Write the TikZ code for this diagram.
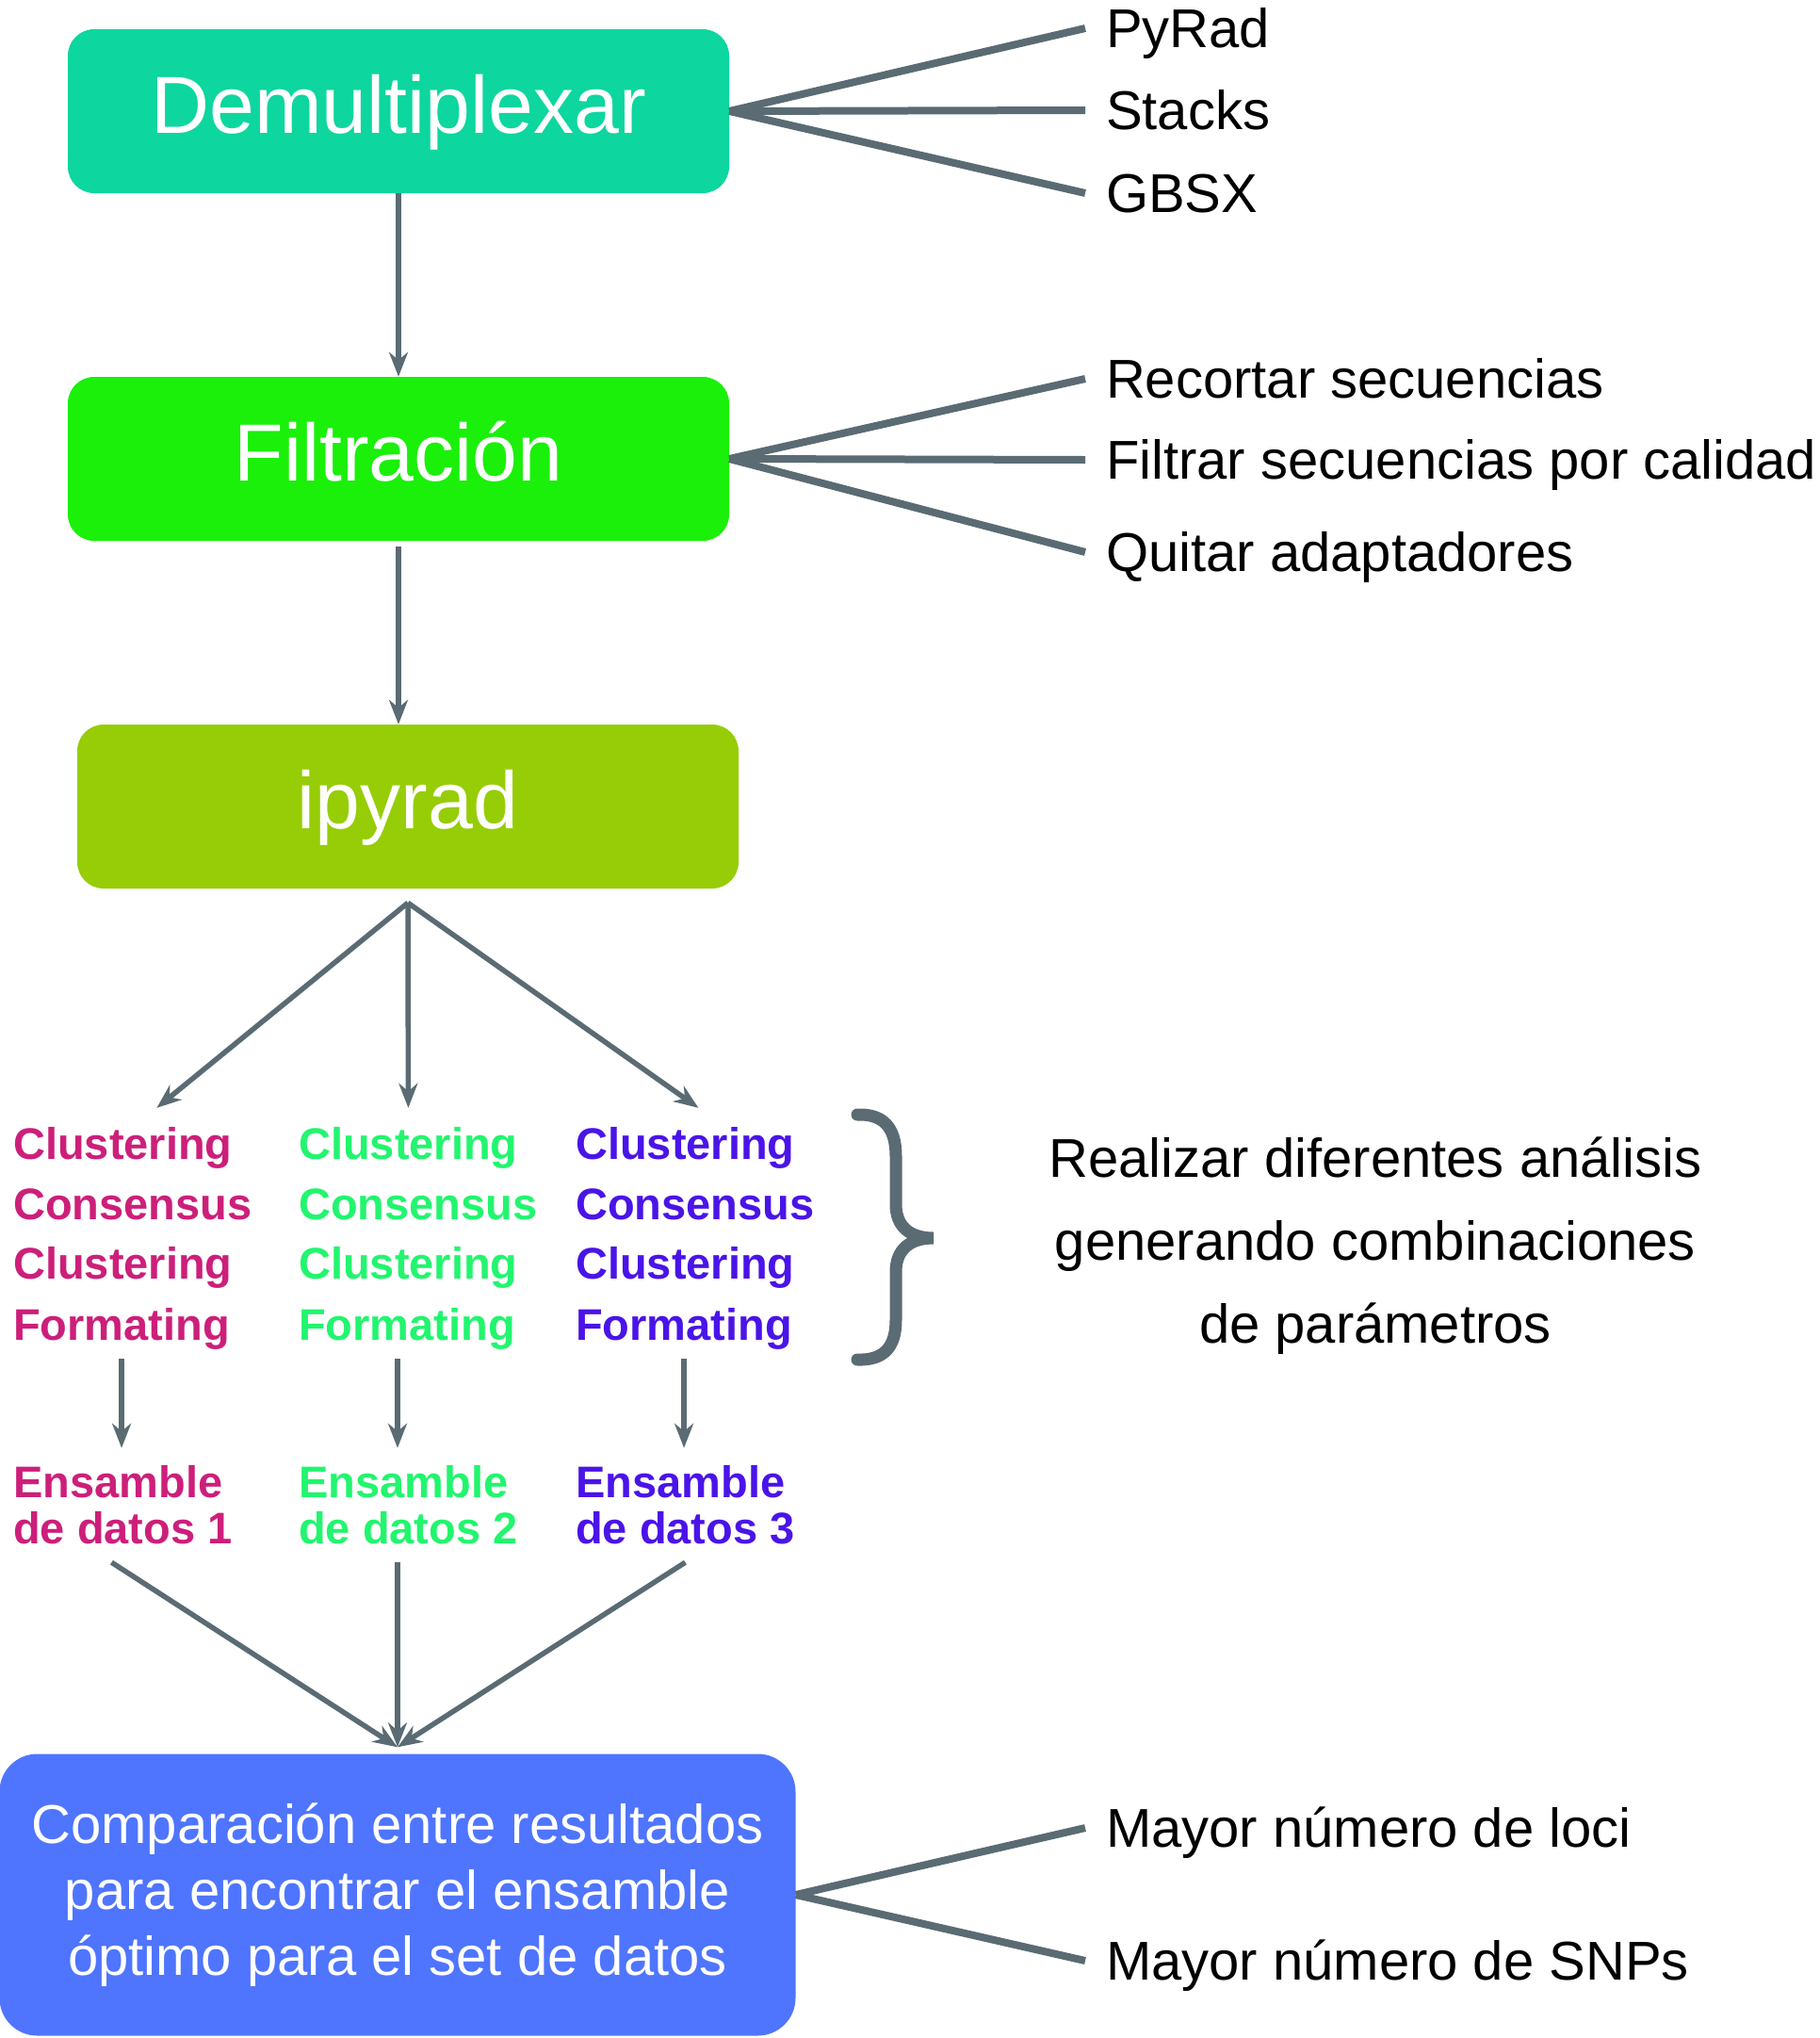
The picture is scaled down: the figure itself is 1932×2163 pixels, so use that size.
\documentclass[tikz,border=0pt]{standalone}
\usepackage{fontspec}
\setmainfont{Liberation Sans}
\usepackage{tikz}
\usetikzlibrary{arrows.meta}

\definecolor{demuxfill}{HTML}{0DD69E}
\definecolor{filtfill}{HTML}{1AF00A}
\definecolor{ipyfill}{HTML}{96CD06}
\definecolor{cmpfill}{HTML}{4F75FE}
\definecolor{linegray}{HTML}{5A6B73}
\definecolor{setone}{HTML}{CC1F7A}
\definecolor{settwo}{HTML}{22F56E}
\definecolor{setthree}{HTML}{4A14E8}

\begin{document}
\begin{tikzpicture}[x=1pt,y=-1pt]

\tikzset{stage/.style = {shape=rectangle,rounded corners=28pt,minimum width=702pt,minimum height=174pt,inner sep=0pt,text=white}}
\tikzset{oneline/.style = {font=\fontsize{86}{100}\selectfont,text height=62pt,text depth=16pt}}
\tikzset{tool/.style = {anchor=west,inner sep=0pt,outer xsep=22pt,font=\fontsize{58}{70}\selectfont,text height=41pt,text depth=0pt}}
\tikzset{runtext/.style = {anchor=west,inner sep=0pt,font=\bfseries\fontsize{47}{56}\selectfont,text height=34pt,text depth=0pt}}
\tikzset{edge/.style = {-{Stealth[length=26pt,width=20pt]},draw=linegray,line width=5.5pt}}
\tikzset{branch/.style = {draw=linegray,line width=8pt}}

\useasboundingbox (0,0) rectangle (1932,2163);

% stages
\node[stage,oneline,fill=demuxfill] (demux) at (423,118) {Demultiplexar};
\node[stage,oneline,fill=filtfill] (filt) at (423,487) {Filtración};
\node[stage,oneline,fill=ipyfill] (ipy) at (433,856) {ipyrad};
\node[stage,fill=cmpfill,minimum width=845pt,minimum height=299pt,rounded corners=40pt,align=center,font=\fontsize{58}{70}\selectfont] (cmp) at (422,2011)
  {Comparación entre resultados\\para encontrar el ensamble\\óptimo para el set de datos};

% tools
\node[tool] (pyrad) at (1152,30) {PyRad};
\node[tool] (stacks) at (1152,117) {Stacks};
\node[tool] (gbsx) at (1152,205) {GBSX};
\node[tool] (trim) at (1152,402) {Recortar secuencias};
\node[tool] (qual) at (1152,488) {Filtrar secuencias por calidad};
\node[tool] (adapt) at (1152,586) {Quitar adaptadores};
\node[tool] (loci) at (1152,1940) {Mayor número de loci};
\node[tool] (snps) at (1152,2081) {Mayor número de SNPs};

% runs
\foreach \n/\x/\clr in {1/14/setone,2/317/settwo,3/611/setthree} {
  \node[runtext,text=\clr] (clu\n) at (\x,1213) {Clustering};
  \node[runtext,text=\clr] (con\n) at (\x,1277) {Consensus};
  \node[runtext,text=\clr] (clt\n) at (\x,1340) {Clustering};
  \node[runtext,text=\clr] (fmt\n) at (\x,1405) {Formating};
  \node[runtext,text=\clr] (ens\n) at (\x,1572) {Ensamble};
  \node[runtext,text=\clr] (dat\n) at (\x,1621) {de datos \n};
}

\node[align=center,inner sep=0pt,font=\fontsize{58}{88}\selectfont] (note) at (1460,1322)
  {Realizar diferentes análisis\\generando combinaciones\\de parámetros};

% brace
\draw[linegray,line width=13pt,line cap=round] (910,1183) .. controls (938,1182) and (951,1197) .. (951,1227) -- (951,1278)
  .. controls (951,1302) and (966,1314) .. (991,1314) .. controls (966,1314) and (951,1326) .. (951,1350) -- (951,1401)
  .. controls (951,1430) and (938,1444) .. (910,1443);

%edges
\draw[edge] (demux) -- (filt);
\draw[edge] ([yshift=-6pt]filt.south) -- (ipy.north -| filt.south);
\draw[branch] (demux.east) -- (pyrad.west);
\draw[branch] (demux.east) -- (stacks.west);
\draw[branch] (demux.east) -- (gbsx.west);
\draw[branch] (filt.east) -- (trim.west);
\draw[branch] (filt.east) -- (qual.west);
\draw[branch] (filt.east) -- (adapt.west);
\draw[branch] (cmp.east) -- (loci.west);
\draw[branch] (cmp.east) -- (snps.west);

\coordinate (split) at ([yshift=-15pt]ipy.south);
\draw[edge] (split) -- ([xshift=36pt,yshift=20pt]clu1.north);
\draw[edge] (split) -- ([yshift=20pt]clu2.north);
\draw[edge] (split) -- ([xshift=14pt,yshift=20pt]clu3.north);

\coordinate (merge) at ([yshift=7pt]cmp.north);
\draw[edge] ([yshift=-20pt]fmt1.south) -- ([yshift=18pt]ens1.north -| fmt1.south);
\draw[edge] ([yshift=-20pt]fmt2.south -| merge) -- ([yshift=18pt]ens2.north -| merge);
\draw[edge] ([yshift=-20pt]fmt3.south) -- ([yshift=18pt]ens3.north -| fmt3.south);
\draw[edge] ([xshift=-12pt,yshift=-20pt]dat1.south) -- (merge);
\draw[edge] ([yshift=-20pt]dat2.south -| merge) -- (merge);
\draw[edge] ([yshift=-20pt]dat3.south) -- (merge);
\end{tikzpicture}
\end{document}
